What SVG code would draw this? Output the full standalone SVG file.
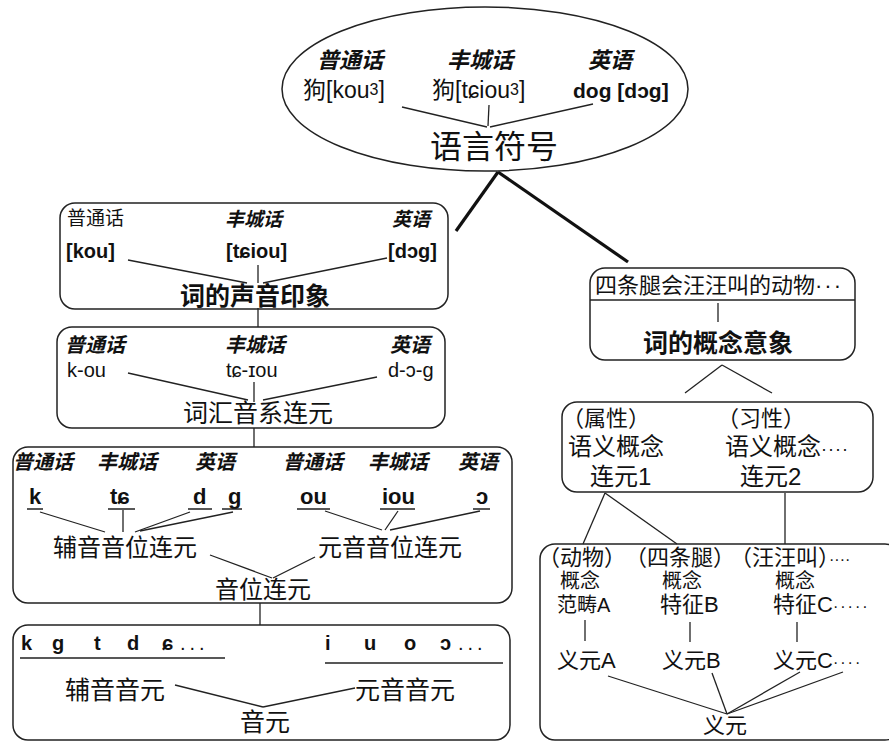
<svg xmlns="http://www.w3.org/2000/svg" width="889" height="742" viewBox="0 0 889 742">
<style>
text{font-family:"Liberation Sans","Noto Sans CJK SC",sans-serif;fill:#111}
.it{font-style:italic;font-weight:bold}
.b{font-weight:bold}
.box{fill:none;stroke:#222;stroke-width:1.5}
.ln{stroke:#222;stroke-width:1.3;fill:none}
.thick{stroke:#111;stroke-width:3.2;fill:none}
</style>
<rect width="889" height="742" fill="#fff"/>
<g id="connectors">
<line class="thick" x1="498" y1="172" x2="456" y2="231"/>
<line class="thick" x1="498" y1="172" x2="628" y2="262"/>
<line class="ln" x1="258" y1="308" x2="258" y2="327"/>
<line class="ln" x1="254" y1="428" x2="254" y2="447"/>
<line class="ln" x1="260" y1="603" x2="260" y2="625"/>
<line class="ln" x1="722" y1="365" x2="685" y2="393"/>
<line class="ln" x1="722" y1="365" x2="772" y2="393"/>
<line class="ln" x1="605" y1="493" x2="583" y2="544"/>
<line class="ln" x1="605" y1="493" x2="677" y2="544"/>
<line class="ln" x1="785" y1="493" x2="785" y2="544"/>
</g>
<g id="sign">
<ellipse class="box" cx="485" cy="89" rx="203" ry="82"/>
<text class="it" x="317" y="68" font-size="22">普通话</text>
<text class="it" x="447" y="68" font-size="22">丰城话</text>
<text class="it" x="588" y="68" font-size="22">英语</text>
<text x="303" y="98" font-size="23">狗[kou<tspan font-size="16" dy="-3">3</tspan><tspan dy="3">]</tspan></text>
<text x="432" y="98" font-size="23">狗[tɕiou<tspan font-size="16" dy="-3">3</tspan><tspan dy="3">]</tspan></text>
<text class="b" x="573" y="98" font-size="21">dog [dɔg]</text>
<line class="ln" x1="402" y1="107" x2="487" y2="127"/>
<line class="ln" x1="489" y1="105" x2="488" y2="126"/>
<line class="ln" x1="593" y1="104" x2="490" y2="127"/>
<text x="430" y="158" font-size="32">语言符号</text>
</g>
<g id="sound-image">
<rect class="box" x="60" y="203" width="388" height="106" rx="15"/>
<text x="67" y="225" font-size="19">普通话</text>
<text class="it" x="225" y="226" font-size="19" font-weight="normal">丰城话</text>
<text class="it" x="392" y="226" font-size="19" font-weight="normal">英语</text>
<text class="b" x="66" y="258" font-size="20">[kou]</text>
<text class="b" x="226" y="258" font-size="20">[tɕiou]</text>
<text class="b" x="388" y="258" font-size="20">[dɔg]</text>
<line class="ln" x1="128" y1="260" x2="247" y2="283"/>
<line class="ln" x1="258" y1="265" x2="258" y2="283"/>
<line class="ln" x1="387" y1="258" x2="263" y2="283"/>
<text class="b" x="180" y="305" font-size="25">词的声音印象</text>
</g>
<g id="lexical">
<rect class="box" x="57" y="327" width="388" height="101" rx="15"/>
<text class="it" x="65" y="352" font-size="20" font-weight="normal">普通话</text>
<text class="it" x="225" y="352" font-size="20" font-weight="normal">丰城话</text>
<text class="it" x="390" y="352" font-size="20" font-weight="normal">英语</text>
<text x="67" y="377" font-size="20">k-ou</text>
<text x="226" y="377" font-size="20">tɕ-ɪou</text>
<text x="388" y="377" font-size="20">d-ɔ-g</text>
<line class="ln" x1="128" y1="373" x2="248" y2="400"/>
<line class="ln" x1="254" y1="382" x2="254" y2="402"/>
<line class="ln" x1="377" y1="377" x2="263" y2="400"/>
<text x="183" y="422" font-size="25">词汇音系连元</text>
</g>
<g id="phoneme">
<rect class="box" x="13" y="447" width="499" height="156" rx="15"/>
<text class="it" x="13" y="469" font-size="20" font-weight="normal">普通话</text>
<text class="it" x="97" y="469" font-size="20" font-weight="normal">丰城话</text>
<text class="it" x="195" y="469" font-size="20" font-weight="normal">英语</text>
<text class="it" x="283" y="469" font-size="20" font-weight="normal">普通话</text>
<text class="it" x="368" y="469" font-size="20" font-weight="normal">丰城话</text>
<text class="it" x="458" y="469" font-size="20" font-weight="normal">英语</text>
<g font-size="22">
<text class="b" x="29" y="504">k</text>
<text class="b" x="110" y="504">tɕ</text>
<text class="b" x="193" y="504">d</text>
<text class="b" x="228" y="504">g</text>
<text class="b" x="300" y="504">ou</text>
<text class="b" x="382" y="504">iou</text>
<text class="b" x="476" y="504">ɔ</text>
</g>
<path class="ln" d="M27 509H43M108 509H135M188 509H212M222 509H242M297 509H330M380 509H415M473 509H490"/>
<line class="ln" x1="40" y1="512" x2="105" y2="532"/>
<line class="ln" x1="123" y1="510" x2="123" y2="532"/>
<line class="ln" x1="190" y1="512" x2="135" y2="532"/>
<line class="ln" x1="233" y1="512" x2="140" y2="531"/>
<line class="ln" x1="325" y1="511" x2="382" y2="530"/>
<line class="ln" x1="398" y1="511" x2="385" y2="530"/>
<line class="ln" x1="480" y1="511" x2="390" y2="530"/>
<text x="53" y="556" font-size="24">辅音音位连元</text>
<text x="318" y="556" font-size="24">元音音位连元</text>
<line class="ln" x1="210" y1="555" x2="272" y2="578"/>
<line class="ln" x1="315" y1="557" x2="273" y2="578"/>
<text x="215" y="598" font-size="24">音位连元</text>
</g>
<g id="sound-unit">
<rect class="box" x="13" y="625" width="497" height="115" rx="15"/>
<g font-size="20">
<text class="b" x="21" y="650">k</text>
<text class="b" x="52" y="650">g</text>
<text class="b" x="94" y="650">t</text>
<text class="b" x="127" y="650">d</text>
<text class="b" x="162" y="650">ɕ</text>
<text x="180" y="650" letter-spacing="4">...</text>
<text class="b" x="325" y="650">i</text>
<text class="b" x="364" y="650">u</text>
<text class="b" x="404" y="650">o</text>
<text class="b" x="440" y="650">ɔ</text>
<text x="458" y="650" letter-spacing="4">...</text>
</g>
<path class="ln" d="M20 658H225M325 663H503"/>
<text x="65" y="699" font-size="25">辅音音元</text>
<text x="355" y="699" font-size="25">元音音元</text>
<line class="ln" x1="175" y1="685" x2="263" y2="707"/>
<line class="ln" x1="355" y1="688" x2="263" y2="707"/>
<text x="240" y="731" font-size="25">音元</text>
</g>
<g id="concept-image">
<rect class="box" x="590" y="268" width="265" height="92" rx="15"/>
<line class="ln" x1="590" y1="300" x2="855" y2="300"/>
<text x="595" y="293" font-size="22">四条腿会汪汪叫的动物<tspan letter-spacing="2">···</tspan></text>
<line class="ln" x1="718" y1="303" x2="718" y2="322"/>
<text class="b" x="643" y="352" font-size="25">词的概念意象</text>
</g>
<g id="semantic">
<rect class="box" x="562" y="402" width="311" height="90" rx="15"/>
<text x="562" y="426" font-size="22">（属性）</text>
<text x="717" y="426" font-size="22">（习性）</text>
<text x="568" y="455" font-size="24">语义概念</text>
<text x="725" y="455" font-size="24">语义概念<tspan font-size="18" letter-spacing="1">····</tspan></text>
<text x="590" y="485" font-size="24">连元1</text>
<text x="740" y="485" font-size="24">连元2</text>
</g>
<g id="sememe">
<rect class="box" x="540" y="544" width="360" height="196" rx="15"/>
<text x="538" y="565" font-size="22">（动物）</text>
<text x="625" y="565" font-size="22">（四条腿）</text>
<text x="730" y="565" font-size="22">（汪汪叫）<tspan font-size="16">····</tspan></text>
<text x="560" y="588" font-size="20">概念</text>
<text x="662" y="588" font-size="20">概念</text>
<text x="775" y="588" font-size="20">概念</text>
<text x="557" y="612" font-size="20">范畴A</text>
<text x="660" y="612" font-size="22">特征B</text>
<text x="773" y="612" font-size="22">特征C<tspan font-size="16" letter-spacing="2">·····</tspan></text>
<line class="ln" x1="585" y1="620" x2="585" y2="641"/>
<line class="ln" x1="690" y1="622" x2="690" y2="642"/>
<line class="ln" x1="797" y1="622" x2="797" y2="642"/>
<text x="557" y="668" font-size="22">义元A</text>
<text x="662" y="668" font-size="22">义元B</text>
<text x="773" y="668" font-size="22">义元C<tspan font-size="16" letter-spacing="2">····</tspan></text>
<line class="ln" x1="608" y1="676" x2="727" y2="714"/>
<line class="ln" x1="712" y1="673" x2="727" y2="714"/>
<line class="ln" x1="800" y1="672" x2="727" y2="714"/>
<line class="ln" x1="843" y1="672" x2="727" y2="714"/>
<text x="703" y="733" font-size="22">义元</text>
</g>
</svg>
